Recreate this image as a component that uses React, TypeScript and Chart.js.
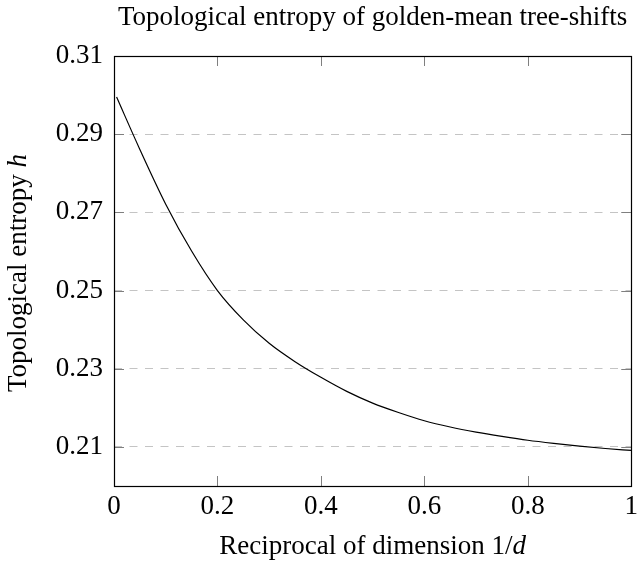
import React, { useEffect, useRef } from "react";
import { Chart, registerables } from "chart.js";

Chart.register(...registerables);

const X_VALUES = [0.005, 0.05, 0.1, 0.15, 0.2, 0.25, 0.3, 0.35, 0.4, 0.45, 0.5, 0.55, 0.6, 0.65, 0.7, 0.75, 0.8, 0.85, 0.9, 0.95, 1.0];
const H_VALUES = [0.2995, 0.2861, 0.2721, 0.2601, 0.25, 0.2425, 0.2365, 0.2318, 0.2278, 0.2242, 0.2212, 0.2188, 0.2167, 0.2151, 0.2138, 0.2127, 0.2117, 0.2109, 0.2102, 0.2096, 0.2091];
const X_TICKS = [0, 0.2, 0.4, 0.6, 0.8, 1];
const Y_TICKS = [0.21, 0.23, 0.25, 0.27, 0.29, 0.31];

const TITLE = "Topological entropy of golden-mean tree-shifts";
const X_TITLE = [
  { t: "Reciprocal of dimension 1/", i: false },
  { t: "d", i: true },
];
const Y_TITLE = [
  { t: "Topological entropy ", i: false },
  { t: "h", i: true },
];

const FAMILY = "'Liberation Serif', 'Times New Roman', serif";
const FS = 27;

function font(italic: boolean, size = FS) {
  return `${italic ? "italic " : ""}${size}px ${FAMILY}`;
}

function drawRich(ctx: CanvasRenderingContext2D, parts: { t: string; i: boolean }[], cx: number, baseline: number) {
  let total = 0;
  const widths = parts.map((p) => {
    ctx.font = font(p.i);
    const w = ctx.measureText(p.t).width;
    total += w;
    return w;
  });
  let x = cx - total / 2;
  ctx.textAlign = "left";
  ctx.textBaseline = "alphabetic";
  parts.forEach((p, k) => {
    ctx.font = font(p.i);
    ctx.fillText(p.t, x, baseline);
    x += widths[k];
  });
}

const decorPlugin = {
  id: "decor",
  afterDatasetsDraw(chart: any) {
    const { ctx, chartArea, scales } = chart;
    const { left, right, top, bottom } = chartArea;
    ctx.save();
    const TL = 10;
    ctx.strokeStyle = "#7f7f7f";
    ctx.lineWidth = 1;
    X_TICKS.forEach((v) => {
      const x = Math.round(scales.x.getPixelForValue(v)) + 0.5;
      ctx.beginPath();
      ctx.moveTo(x, bottom);
      ctx.lineTo(x, bottom - TL);
      ctx.moveTo(x, top);
      ctx.lineTo(x, top + TL);
      ctx.stroke();
    });
    Y_TICKS.forEach((v) => {
      const y = Math.round(scales.y.getPixelForValue(v)) + 0.5;
      ctx.beginPath();
      ctx.moveTo(left, y);
      ctx.lineTo(left + TL, y);
      ctx.moveTo(right, y);
      ctx.lineTo(right - TL, y);
      ctx.stroke();
    });
    ctx.strokeStyle = "#000";
    ctx.lineWidth = 1.2;
    ctx.strokeRect(Math.round(left) + 0.5, Math.round(top) + 0.5, Math.round(right - left), Math.round(bottom - top));
    ctx.restore();
  },
  afterDraw(chart: any) {
    const { ctx, chartArea } = chart;
    const cx = (chartArea.left + chartArea.right) / 2;
    const cy = (chartArea.top + chartArea.bottom) / 2;
    ctx.save();
    ctx.fillStyle = "#000";
    ctx.font = font(false);
    ctx.textAlign = "center";
    ctx.textBaseline = "alphabetic";
    ctx.fillText(TITLE, cx, 25);
    drawRich(ctx, X_TITLE, cx, 554);
    ctx.translate(26, cy + 2);
    ctx.rotate(-Math.PI / 2);
    drawRich(ctx, Y_TITLE, 0, 0);
    ctx.restore();
  },
};

export default function App() {
  const ref = useRef<HTMLCanvasElement | null>(null);
  useEffect(() => {
    document.body.style.margin = "0";
    const canvas = ref.current;
    if (!canvas) return;
    const chart = new Chart(canvas, {
      type: "line",
      data: {
        datasets: [
          {
            data: X_VALUES.map((x, k) => ({ x, y: H_VALUES[k] })),
            borderColor: "#000",
            borderWidth: 1.2,
            pointRadius: 0,
            cubicInterpolationMode: "monotone",
            fill: false,
          },
        ],
      },
      options: {
        animation: false,
        responsive: false,
        devicePixelRatio: 1,
        layout: { padding: { left: 0, right: 11, top: 56, bottom: 0 } },
        plugins: { legend: { display: false }, title: { display: false }, tooltip: { enabled: false } },
        scales: {
          x: {
            type: "linear",
            min: 0,
            max: 1,
            afterBuildTicks: (s: any) => {
              s.ticks = X_TICKS.map((value) => ({ value }));
            },
            afterFit: (s: any) => {
              s.height = 75;
            },
            ticks: {
              font: { family: FAMILY, size: FS },
              color: "#000",
              padding: 5,
              maxRotation: 0,
              autoSkip: false,
              callback: (v: any) => String(v),
            },
            grid: { display: false, drawTicks: false },
            border: { display: false },
          },
          y: {
            type: "linear",
            min: 0.2,
            max: 0.31,
            afterBuildTicks: (s: any) => {
              s.ticks = Y_TICKS.map((value) => ({ value }));
            },
            afterFit: (s: any) => {
              s.width = 114;
            },
            ticks: {
              font: { family: FAMILY, size: FS },
              color: "#000",
              padding: 11,
              autoSkip: false,
              callback: (v: any) => Number(v).toFixed(2),
            },
            grid: { color: "#c4c4c4", lineWidth: 1, drawTicks: false },
            border: { display: false, dash: [8, 7.5] },
          },
        },
      },
      plugins: [decorPlugin],
    } as any);
    return () => chart.destroy();
  }, []);
  return (
    <div style={{ width: 643, height: 561 }}>
      <canvas ref={ref} width={643} height={561} style={{ display: "block" }} />
    </div>
  );
}
